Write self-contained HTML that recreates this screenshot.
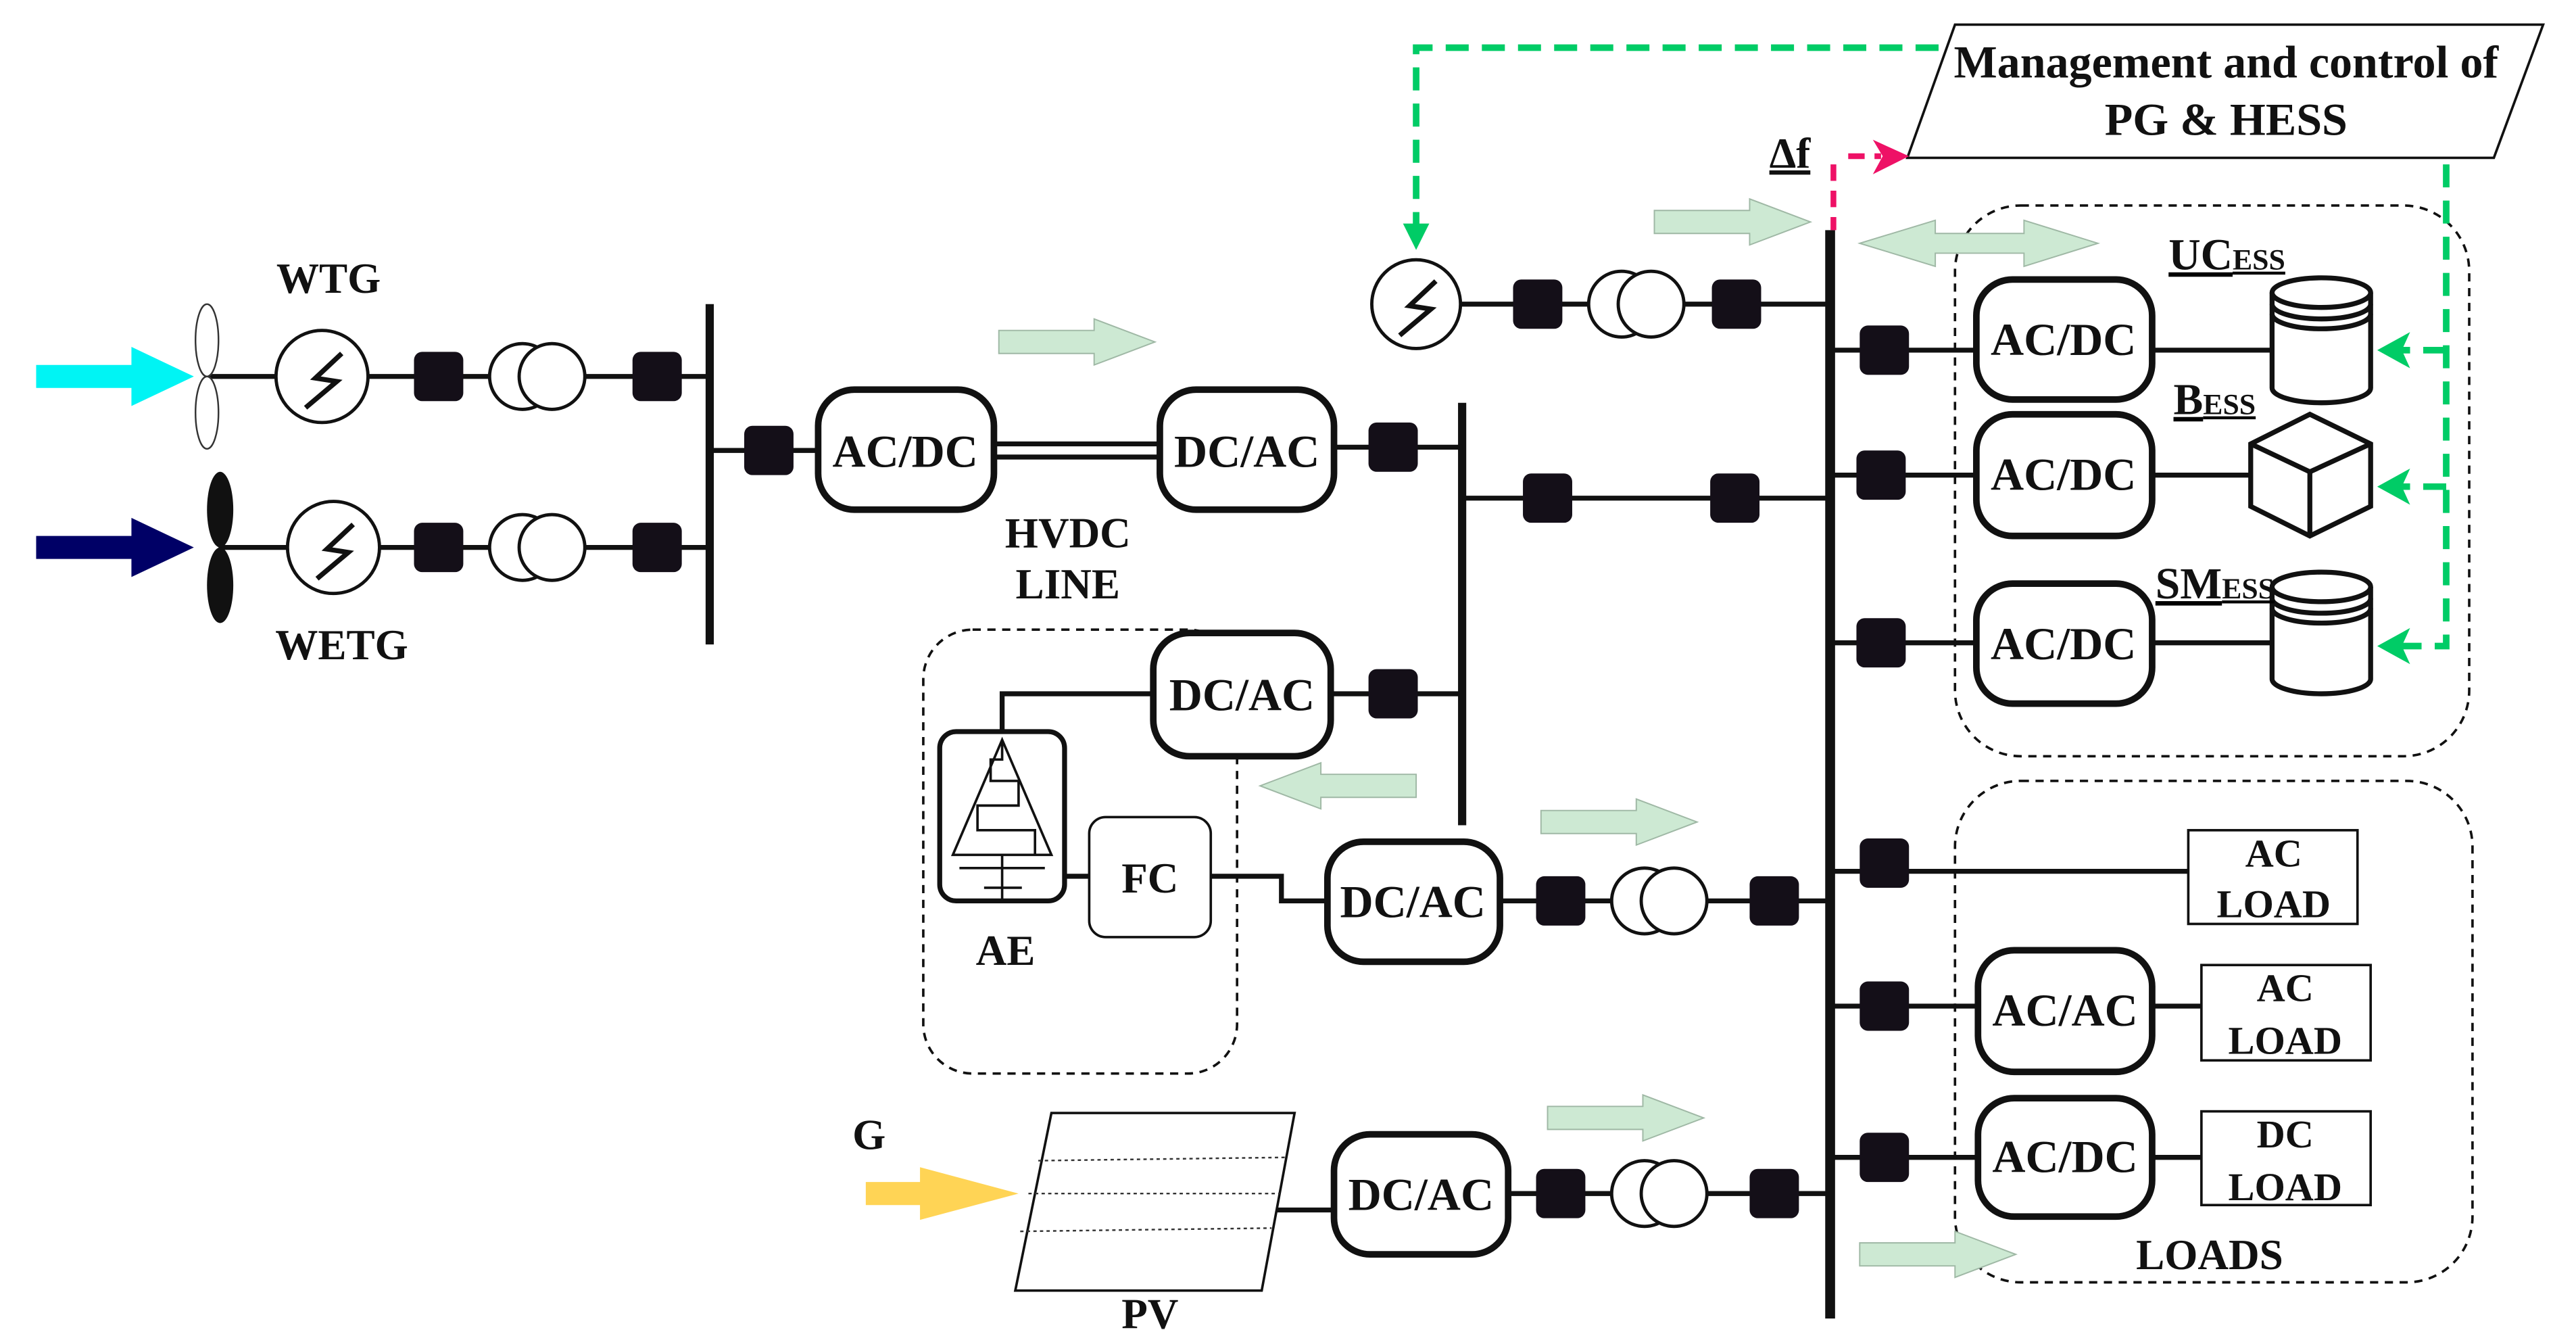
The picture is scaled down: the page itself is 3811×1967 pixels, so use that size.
<!DOCTYPE html>
<html><head><meta charset="utf-8"><style>
html,body{margin:0;padding:0;background:#fff;}
svg{display:block;}
text{font-family:"Liberation Serif",serif;font-weight:bold;fill:#111;}
</style></head><body>
<svg width="3811" height="1967" viewBox="0 0 1568 809" preserveAspectRatio="none" xmlns="http://www.w3.org/2000/svg">
<defs>
<g id="sq"><rect x="-15" y="-15" width="30" height="30" rx="5" fill="#140f18"/></g>
<g id="tr"><circle cx="-9" cy="0" r="20" fill="#fff" stroke="#111" stroke-width="2"/><circle cx="9" cy="0" r="20" fill="#fff" stroke="#111" stroke-width="2"/></g>
<g id="ga"><polygon points="0,-7 58,-7 58,-14 95,0 58,14 58,7 0,7" fill="#cde9d3" stroke="#9fb8a5" stroke-width="0.8"/></g>
</defs>
<g stroke="#111" stroke-width="3" fill="none">
<line x1="432" y1="185" x2="432" y2="392" stroke-width="5"/>
<line x1="890" y1="245" x2="890" y2="502" stroke-width="5"/>
<line x1="1114" y1="140" x2="1114" y2="802" stroke-width="6"/>
<line x1="126" y1="229" x2="432" y2="229"/>
<line x1="133" y1="333" x2="432" y2="333"/>
<line x1="432" y1="274" x2="498" y2="274"/>
<line x1="605" y1="270" x2="706" y2="270"/>
<line x1="605" y1="278" x2="706" y2="278"/>
<line x1="812" y1="272" x2="890" y2="272"/>
<line x1="890" y1="303" x2="1112" y2="303"/>
<line x1="888" y1="185" x2="1112" y2="185"/>
<line x1="810" y1="422" x2="888" y2="422"/>
<polyline points="702,422 610,422 610,448"/>
<polyline points="737,533 780,533 780,548 808,548"/>
<line x1="648" y1="533" x2="663" y2="533"/>
<line x1="913" y1="548" x2="1112" y2="548"/>
<line x1="770" y1="736" x2="812" y2="736"/>
<line x1="918" y1="726" x2="1112" y2="726"/>
<line x1="1114" y1="213" x2="1383" y2="213"/>
<line x1="1114" y1="289" x2="1370" y2="289"/>
<line x1="1114" y1="391" x2="1383" y2="391"/>
<line x1="1114" y1="530" x2="1332" y2="530"/>
<line x1="1114" y1="612" x2="1340" y2="612"/>
<line x1="1114" y1="704" x2="1340" y2="704"/>
</g>
<g fill="none" stroke="#111" stroke-width="1.5" stroke-dasharray="5,4">
<rect x="1190" y="125" width="313" height="335" rx="40"/>
<rect x="1190" y="475" width="315" height="305" rx="40"/>
<rect x="562" y="383" width="191" height="270" rx="30"/>
</g>
<use href="#sq" x="267" y="229"/><use href="#sq" x="400" y="229"/>
<use href="#sq" x="267" y="333"/><use href="#sq" x="400" y="333"/>
<use href="#sq" x="468" y="274"/><use href="#sq" x="848" y="272"/>
<use href="#sq" x="936" y="185"/><use href="#sq" x="1057" y="185"/>
<use href="#sq" x="942" y="303"/><use href="#sq" x="1056" y="303"/>
<use href="#sq" x="848" y="422"/>
<use href="#sq" x="950" y="548"/><use href="#sq" x="1080" y="548"/>
<use href="#sq" x="950" y="726"/><use href="#sq" x="1080" y="726"/>
<use href="#sq" x="1147" y="213"/><use href="#sq" x="1145" y="289"/><use href="#sq" x="1145" y="391"/>
<use href="#sq" x="1147" y="525"/><use href="#sq" x="1147" y="612"/><use href="#sq" x="1147" y="704"/>
<use href="#tr" x="327" y="229"/><use href="#tr" x="327" y="333"/>
<use href="#tr" x="996" y="185"/><use href="#tr" x="1010" y="548"/><use href="#tr" x="1010" y="726"/>
<g fill="#fff" stroke="#111" stroke-width="2">
<circle cx="196" cy="229" r="28"/><circle cx="203" cy="333" r="28"/><circle cx="862" cy="185" r="27"/>
</g>
<g fill="none" stroke="#111" stroke-width="3">
<polyline points="208,215 192,230 205,232 186,248"/>
<polyline points="215,319 199,334 212,336 193,352"/>
<polyline points="874,171 858,186 871,188 852,204"/>
</g>
<ellipse cx="126" cy="207" rx="7" ry="22" fill="#fff" stroke="#333" stroke-width="1"/>
<ellipse cx="126" cy="251" rx="7" ry="22" fill="#fff" stroke="#333" stroke-width="1"/>
<ellipse cx="134" cy="310" rx="8" ry="23" fill="#111"/>
<ellipse cx="134" cy="356" rx="8" ry="23" fill="#111"/>
<polygon points="22,222 80,222 80,211 118,229 80,247 80,236 22,236" fill="#00f4f4"/>
<polygon points="22,326 80,326 80,315 118,333 80,351 80,340 22,340" fill="#000066"/>
<polygon points="527,719 560,719 560,710 620,726 560,742 560,733 527,733" fill="#ffd455"/>
<g fill="#fff" stroke="#111" stroke-width="4">
<rect x="498" y="237" width="107" height="73" rx="22"/>
<rect x="706" y="237" width="106" height="73" rx="22"/>
<rect x="702" y="385" width="108" height="75" rx="22"/>
<rect x="808" y="512" width="105" height="73" rx="22"/>
<rect x="812" y="690" width="106" height="73" rx="22"/>
<rect x="1203" y="170" width="107" height="73" rx="22"/>
<rect x="1203" y="252" width="107" height="74" rx="22"/>
<rect x="1203" y="355" width="107" height="73" rx="22"/>
<rect x="1204" y="578" width="106" height="74" rx="22"/>
<rect x="1204" y="668" width="106" height="72" rx="22"/>
</g>
<g font-size="28" text-anchor="middle">
<text x="551" y="284">AC/DC</text><text x="759" y="284">DC/AC</text>
<text x="756" y="432">DC/AC</text><text x="860" y="558">DC/AC</text>
<text x="865" y="736">DC/AC</text>
<text x="1256" y="216">AC/DC</text><text x="1256" y="298">AC/DC</text><text x="1256" y="401">AC/DC</text>
<text x="1257" y="624">AC/AC</text><text x="1257" y="713">AC/DC</text>
</g>
<rect x="572" y="445" width="76" height="103" rx="10" fill="#fff" stroke="#111" stroke-width="3"/>
<g fill="none" stroke="#111" stroke-width="1.5">
<polygon points="610,450 580,520 640,520"/>
<polyline points="610,450 610,462 603,462 603,475 620,475 620,490 595,490 595,505 630,505 630,520"/>
<line x1="584" y1="528" x2="636" y2="528"/><line x1="599" y1="540" x2="622" y2="540"/>
<line x1="610" y1="520" x2="610" y2="548"/>
</g>
<rect x="663" y="497" width="74" height="73" rx="10" fill="#fff" stroke="#111" stroke-width="1.5"/>
<g font-size="26" text-anchor="middle">
<text x="700" y="543">FC</text><text x="612" y="587">AE</text>
<text x="650" y="333">HVDC</text><text x="650" y="364">LINE</text>
<text x="200" y="178">WTG</text><text x="208" y="401">WETG</text>
<text x="700" y="808">PV</text><text x="529" y="699">G</text>
<text x="1345" y="772">LOADS</text>
</g>
<polygon points="640,677 788,677 768,785 618,785" fill="#fff" stroke="#111" stroke-width="1.5"/>
<g stroke="#333" stroke-width="1" stroke-dasharray="2,2">
<line x1="632" y1="706" x2="783" y2="704"/><line x1="626" y1="726" x2="779" y2="726"/><line x1="621" y1="749" x2="774" y2="747"/>
</g>
<g fill="#fff" stroke="#111" stroke-width="3">
<path d="M1383,178 L1383,236 A30,9 0 0 0 1443,236 L1443,178"/>
<ellipse cx="1413" cy="178" rx="30" ry="9"/>
<path d="M1383,185 A30,9 0 0 0 1443,185 M1383,191 A30,9 0 0 0 1443,191" fill="none"/>
<path d="M1383,357 L1383,413 A30,9 0 0 0 1443,413 L1443,357"/>
<ellipse cx="1413" cy="357" rx="30" ry="9"/>
<path d="M1383,364 A30,9 0 0 0 1443,364 M1383,370 A30,9 0 0 0 1443,370" fill="none"/>
<polygon points="1370,270 1406,252 1443,270 1443,308 1406,326 1370,308"/>
<polyline points="1370,270 1406,287 1443,270" fill="none"/><line x1="1406" y1="287" x2="1406" y2="326"/>
</g>
<g font-size="27" text-decoration="underline" font-weight="normal">
<text x="1320" y="164" font-weight="normal">UC<tspan font-size="18">ESS</tspan></text>
<text x="1323" y="252" font-weight="normal">B<tspan font-size="18">ESS</tspan></text>
<text x="1312" y="364" font-weight="normal">SM<tspan font-size="18">ESS</tspan></text>
</g>
<g fill="#fff" stroke="#111" stroke-width="1.5">
<rect x="1332" y="505" width="103" height="57"/><rect x="1340" y="587" width="103" height="58"/><rect x="1340" y="676" width="103" height="57"/>
</g>
<g font-size="24" text-anchor="middle">
<text x="1384" y="527">AC</text><text x="1384" y="558">LOAD</text>
<text x="1391" y="609">AC</text><text x="1391" y="641">LOAD</text>
<text x="1391" y="698">DC</text><text x="1391" y="730">LOAD</text>
</g>
<use href="#ga" x="608" y="208"/><use href="#ga" x="1007" y="135"/>
<use href="#ga" x="938" y="500"/><use href="#ga" x="942" y="680"/><use href="#ga" x="1132" y="763"/>
<use href="#ga" transform="translate(862,478) scale(-1,1)"/>
<polygon points="1132,148 1178,134 1178,142 1232,142 1232,134 1277,148 1232,162 1232,154 1178,154 1178,162" fill="#cde9d3" stroke="#9fb8a5" stroke-width="0.8"/>
<polygon points="1190,15 1548,15 1518,96 1161,96" fill="#fff" stroke="#111" stroke-width="1.5"/>
<text x="1355" y="47" font-size="28" text-anchor="middle" font-weight="normal">Management and control of</text>
<text x="1355" y="82" font-size="28" text-anchor="middle" font-weight="normal">PG &amp; HESS</text>
<g fill="none" stroke="#00cc66" stroke-width="4" stroke-dasharray="14,8">
<polyline points="1180,29 862,29 862,140"/>
<polyline points="1489,100 1489,393 1462,393"/>
<polyline points="1489,213 1462,213"/><polyline points="1489,296 1462,296"/>
</g>
<g fill="#00cc66">
<polygon points="854,136 870,136 862,152"/>
<polygon points="1447,213 1467,202 1462,213 1467,224"/>
<polygon points="1447,296 1467,285 1462,296 1467,307"/>
<polygon points="1447,393 1467,382 1462,393 1467,404"/>
</g>
<g fill="none" stroke="#ee1166" stroke-width="3.5" stroke-dasharray="10,6">
<line x1="1116" y1="100" x2="1116" y2="140"/><line x1="1125" y1="95" x2="1145" y2="95"/>
</g>
<polygon points="1140,85 1162,95 1140,106 1146,95" fill="#ee1166"/>
<text x="1077" y="102" font-size="26" font-family="Liberation Sans,sans-serif" text-decoration="underline">Δf</text>
</svg>
</body></html>
